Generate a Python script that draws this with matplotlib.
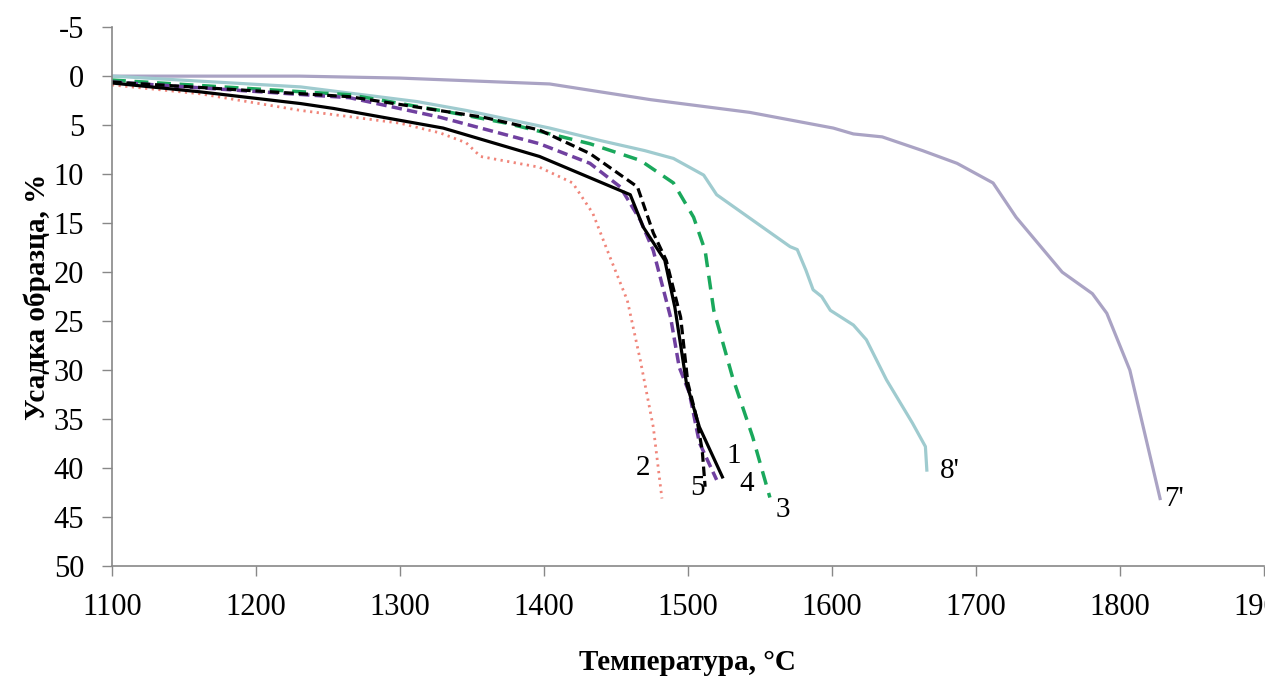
"""Усадка образцов при нагреве"""
import matplotlib
matplotlib.use('Agg')
import matplotlib.pyplot as plt

plt.rcParams['font.family'] = ['Liberation Serif', 'DejaVu Serif']
plt.rcParams['axes.unicode_minus'] = False

# кривая 1 (черная сплошная)
t1 = [1100, 1161, 1231, 1254, 1330, 1397, 1460, 1469, 1484, 1491, 1499, 1508, 1524]
s1 = [0.7, 1.6, 2.8, 3.3, 5.3, 8.2, 12.1, 15.4, 18.8, 23.6, 31.3, 35.8, 40.9]
# кривая 2 (пунктир)
t2 = [1100, 1161, 1231, 1300, 1328, 1346, 1356, 1397, 1420, 1434, 1446, 1458, 1467, 1476, 1482]
s2 = [0.9, 1.8, 3.5, 4.8, 5.8, 6.8, 8.2, 9.3, 10.9, 14.0, 18.5, 22.9, 29.0, 35.8, 43.1]
# кривая 3 (зеленая штриховая)
t3 = [1100, 1265, 1328, 1374, 1432, 1467, 1490, 1504, 1512, 1518, 1531, 1545, 1557]
s3 = [0.4, 1.9, 3.5, 4.8, 6.9, 8.6, 10.9, 14.4, 17.8, 23.9, 30.7, 36.8, 43.0]
# кривая 4 (фиолетовая штриховая)
t4 = [1100, 1265, 1328, 1397, 1432, 1453, 1467, 1476, 1488, 1494, 1501, 1508, 1520]
s4 = [0.6, 2.2, 4.2, 6.9, 8.9, 11.3, 14.7, 17.8, 24.6, 29.7, 32.3, 37.4, 41.2]
# кривая 5 (черная штриховая)
t5 = [1100, 1265, 1358, 1397, 1432, 1465, 1476, 1485, 1495, 1500, 1506, 1510, 1512]
s5 = [0.6, 2.1, 4.2, 5.5, 7.9, 11.3, 16.0, 18.8, 24.6, 31.3, 34.8, 38.2, 41.9]
# кривая 7'
t7 = [1100, 1230, 1300, 1404, 1474, 1543, 1601, 1615, 1635, 1663, 1687, 1712, 1728, 1760, 1781, 1791, 1807, 1828]
s7 = [0.0, 0.0, 0.2, 0.8, 2.4, 3.7, 5.3, 5.9, 6.2, 7.6, 8.9, 10.9, 14.4, 20.0, 22.2, 24.2, 30.0, 43.1]
# кривая 8'
t8 = [1100, 1231, 1312, 1346, 1404, 1440, 1470, 1490, 1511, 1520, 1571, 1576, 1582, 1587, 1593, 1599,
      1615, 1624, 1638, 1656, 1665, 1666]
s8 = [0.0, 1.1, 2.6, 3.5, 5.3, 6.6, 7.6, 8.4, 10.1, 12.1, 17.4, 17.7, 19.8, 21.8, 22.5, 23.9,
      25.4, 26.9, 31.0, 35.4, 37.8, 40.2]

labels = ['1', '2', '3', '4', '5', "7'", "8'"]
label_pos = [(1532, 38.8), (1469, 40.0), (1566, 44.3), (1541, 41.6), (1507, 42.0), (1838, 43.2), (1682, 40.3)]

fig = plt.figure(figsize=(12.65, 6.78), dpi=100)
ax = fig.add_axes([0.0885, 0.165, 0.9105, 0.795])

ax.plot(t7, s7, color='#aaa3c4', lw=2.3)
ax.plot(t8, s8, color='#9fcbcf', lw=2.3)
ax.plot(t2, s2, color='#f0857a', lw=2.0, linestyle=(0, (0.8, 1.6)))
ax.plot(t3, s3, color='#1aa85c', lw=2.5, linestyle=(0, (4, 2.5)))
ax.plot(t4, s4, color='#7040a0', lw=2.5, linestyle=(0, (3, 1.5)))
ax.plot(t5, s5, color='black', lw=2.3, linestyle=(0, (3, 1.5)))
ax.plot(t1, s1, color='black', lw=2.3)

for txt, (x, y) in zip(labels, label_pos):
    ax.text(x, y, txt, fontsize=21, ha='center', va='center')

ax.set_xlim(1100, 1900)
ax.set_ylim(50, -5)
ax.set_xticks(range(1100, 2000, 100))
ax.set_yticks(range(-5, 55, 5))
ax.tick_params(labelsize=22, colors='#888888', labelcolor='black', length=7, width=1)
ax.tick_params(axis='x', pad=12)
ax.tick_params(axis='y', pad=13)
for side in ['top', 'right']:
    ax.spines[side].set_visible(False)
for side in ['left', 'bottom']:
    ax.spines[side].set_color('#888888')
    ax.spines[side].set_linewidth(1.2)

ax.set_xlabel('Температура, °C', fontsize=21, fontweight='bold', labelpad=20)
ax.set_ylabel('Усадка образца, %', fontsize=21, fontweight='bold', labelpad=2)

fig.savefig('out.png', dpi=100)
